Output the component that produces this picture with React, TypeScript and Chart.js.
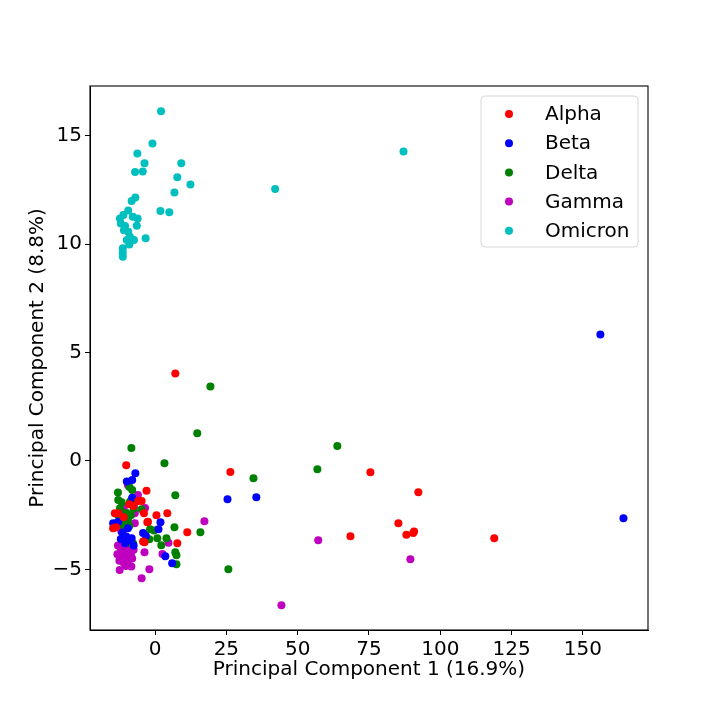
import React, { useEffect, useRef } from "react";
import { Chart, registerables } from "chart.js";

Chart.register(...registerables);

const seriesLabels = ["Alpha", "Beta", "Delta", "Gamma", "Omicron"];
const seriesColors = ["#ff0000", "#0000ff", "#008000", "#bf00bf", "#00bfbf"];

const xTitle = "Principal Component 1 (16.9%)";
const yTitle = "Principal Component 2 (8.8%)";
const xTicks = [0, 25, 50, 75, 100, 125, 150];
const yTicks = [-5, 0, 5, 10, 15];

const alphaX = [7.1, 26.4, 75.5, 92.3, 85.3, 88.1, 90.8, 90.5, 68.5, 118.9, 11.3, 7.8, 4.3, 0.5, -2.7, -3.0, -4.7, -5.9, -3.9, -3.7, -10.1, -14.1, -12.9, -13.7, -14.7, -4.2, -2.5, -7.6, -9.0, -11.0];
const alphaY = [4.04, -0.51, -0.52, -1.44, -2.87, -3.41, -3.26, -3.32, -3.47, -3.57, -3.29, -3.8, -2.41, -2.5, -2.83, -1.38, -1.85, -1.85, -2.41, -3.75, -0.2, -2.41, -2.41, -3.06, -3.11, -3.72, -2.8, -2.08, -2.0, -2.6];

const betaX = [156.1, 164.2, 25.4, 35.5, 1.9, 1.2, -3.2, 3.6, 6.0, -6.9, -9.9, -8.0, -14.7, -12.9, -10.1, -8.9, -4.2, -11.5, -9.5, -8.0, -12.0, -10.5, -7.5, -9.9, -8.2];
const betaY = [5.84, -2.64, -1.77, -1.67, -2.83, -3.15, -3.46, -4.4, -4.72, -0.57, -0.95, -0.88, -2.87, -2.8, -3.49, -3.64, -3.32, -3.3, -3.1, -1.7, -3.6, -3.8, -3.9, -3.64, -3.57];

const deltaX = [19.4, 14.8, 3.3, 63.9, 56.9, 34.5, 7.1, -8.3, 6.8, 15.9, -1.75, -0.35, -2.0, 0.8, 4.0, 2.2, 7.1, 7.5, 7.5, 25.7, -4.7, -8.0, -13.0, -12.9, -11.7, -8.8, -8.3, -12.3, -13.0, -9.5, -11.2, -10.0, -8.5, -9.0, -7.7, -8.0, -10.5, -11.5, -7.5, -9.0];
const deltaY = [3.44, 1.28, -0.11, 0.69, -0.38, -0.8, -1.58, 0.6, -3.06, -3.29, -3.15, -3.21, -3.61, -3.57, -3.57, -3.89, -4.21, -4.35, -4.77, -5.0, -2.23, -1.34, -1.46, -1.8, -1.91, -1.88, -1.8, -2.18, -2.49, -2.72, -2.95, -2.4, -2.5, -3.0, -3.8, -3.84, -2.9, -2.6, -2.2, -1.2];

const gammaX = [57.2, 44.3, 89.5, 17.3, 4.7, 2.6, -3.7, -2.0, -4.7, -3.5, -9.5, -6.0, -10.9, -7.4, -10.6, -7.1, -7.1, -11.8, -12.4, -8.3, -13.0, -12.0, -10.5, -9.0, -13.2, -11.5, -10.0, -8.5, -12.5, -11.0, -9.5, -8.0, -10.2, -12.0, -7.5];
const gammaY = [-3.66, -6.66, -4.53, -2.78, -3.78, -4.29, -4.21, -5.0, -5.41, -2.17, -1.11, -1.57, -2.11, -2.11, -2.41, -2.41, -2.87, -3.26, -5.03, -4.87, -3.9, -4.1, -4.0, -4.0, -4.3, -4.4, -4.3, -4.3, -4.6, -4.7, -4.6, -4.5, -4.85, -4.2, -4.1];

const omicronX = [2.1, -0.9, -6.2, -3.7, -4.3, -7.0, 9.2, 7.8, 12.4, 6.8, -6.9, -8.2, 1.9, 5.0, -9.4, -12.3, -11.1, -7.8, -6.1, -12.0, -10.5, -6.4, -10.9, -9.4, -8.8, -9.9, -7.4, -3.3, -9.0, -11.3, -11.3, -11.3, 42.1, 87.1];
const omicronY = [16.13, 14.65, 14.19, 13.73, 13.36, 13.33, 13.73, 13.09, 12.76, 12.39, 12.16, 11.99, 11.53, 11.47, 11.55, 11.19, 11.35, 11.27, 11.19, 10.96, 10.84, 10.85, 10.65, 10.58, 10.35, 10.19, 10.19, 10.27, 9.99, 9.81, 9.61, 9.42, 12.55, 14.28];

const seriesX = [alphaX, betaX, deltaX, gammaX, omicronX];
const seriesY = [alphaY, betaY, deltaY, gammaY, omicronY];

const FONT = "'DejaVu Sans', sans-serif";
const FS = 20;

const fmt = (v: number | string) => String(v).replace("-", "\u2212");

const frameAndLegend = {
  id: "frameAndLegend",
  afterDraw(chart: any) {
    const { ctx, chartArea } = chart;
    const { left, right, top, bottom } = chartArea;
    ctx.save();
    ctx.strokeStyle = "#000";
    ctx.lineWidth = 1.1;
    ctx.strokeRect(left, top, right - left, bottom - top);

    const bx = 481, by = 96, bw = 157, bh = 151, r = 4;
    ctx.beginPath();
    ctx.moveTo(bx + r, by);
    ctx.lineTo(bx + bw - r, by);
    ctx.quadraticCurveTo(bx + bw, by, bx + bw, by + r);
    ctx.lineTo(bx + bw, by + bh - r);
    ctx.quadraticCurveTo(bx + bw, by + bh, bx + bw - r, by + bh);
    ctx.lineTo(bx + r, by + bh);
    ctx.quadraticCurveTo(bx, by + bh, bx, by + bh - r);
    ctx.lineTo(bx, by + r);
    ctx.quadraticCurveTo(bx, by, bx + r, by);
    ctx.closePath();
    ctx.fillStyle = "rgba(255,255,255,0.8)";
    ctx.fill();
    ctx.strokeStyle = "#d6d6d6";
    ctx.lineWidth = 1;
    ctx.stroke();

    ctx.font = `${FS}px ${FONT}`;
    ctx.textBaseline = "middle";
    ctx.textAlign = "left";
    chart.data.datasets.forEach((ds: any, i: number) => {
      const cy = 114 + i * 29.2;
      ctx.beginPath();
      ctx.arc(509, cy, 4, 0, Math.PI * 2);
      ctx.fillStyle = ds.backgroundColor;
      ctx.fill();
      ctx.fillStyle = "#000";
      ctx.fillText(ds.label, 545, cy + 1);
    });
    ctx.restore();
  },
};

export default function App() {
  const ref = useRef<HTMLCanvasElement | null>(null);
  useEffect(() => {
    if (!ref.current) return;
    const datasets = seriesLabels.map((label, i) => ({
      label,
      data: seriesX[i].map((x, j) => ({ x, y: seriesY[i][j] })),
      backgroundColor: seriesColors[i],
      borderColor: seriesColors[i],
      borderWidth: 0,
      pointRadius: 4,
      pointHoverRadius: 4,
    }));
    const chart = new Chart(ref.current, {
      type: "scatter",
      data: { datasets },
      options: {
        animation: false,
        responsive: false,
        maintainAspectRatio: false,
        layout: { padding: { top: 86, right: 72, left: 0, bottom: 0 } },
        plugins: { legend: { display: false }, tooltip: { enabled: false } },
        scales: {
          x: {
            type: "linear",
            min: -22.8,
            max: 172.8,
            afterFit: (s: any) => { s.height = 90; },
            afterBuildTicks: (s: any) => { s.ticks = xTicks.map((v) => ({ value: v })); },
            ticks: { font: { family: FONT, size: FS }, color: "#000", padding: 3, maxRotation: 0, autoSkip: false, callback: (v: any) => fmt(v) },
            grid: { display: true, drawOnChartArea: false, drawTicks: true, tickLength: 5, color: "#000", lineWidth: 1 },
            border: { display: true, color: "#000", width: 1 },
            title: { display: true, text: xTitle, font: { family: FONT, size: FS }, color: "#000", padding: { top: 0, bottom: 38 } },
          },
          y: {
            type: "linear",
            min: -7.8,
            max: 17.3,
            afterFit: (s: any) => { s.width = 90; },
            afterBuildTicks: (s: any) => { s.ticks = yTicks.map((v) => ({ value: v })); },
            ticks: { font: { family: FONT, size: FS }, color: "#000", padding: 3, autoSkip: false, callback: (v: any) => fmt(v) },
            grid: { display: true, drawOnChartArea: false, drawTicks: true, tickLength: 5, color: "#000", lineWidth: 1 },
            border: { display: true, color: "#000", width: 1 },
            title: { display: true, text: yTitle, font: { family: FONT, size: FS }, color: "#000", padding: { top: 26, bottom: 0 } },
          },
        },
      },
      plugins: [frameAndLegend],
    });
    return () => chart.destroy();
  }, []);
  return (
    <div style={{ position: "fixed", left: 0, top: 0, width: 720, height: 720, background: "#fff" }}>
      <canvas ref={ref} width={720} height={720} />
    </div>
  );
}
